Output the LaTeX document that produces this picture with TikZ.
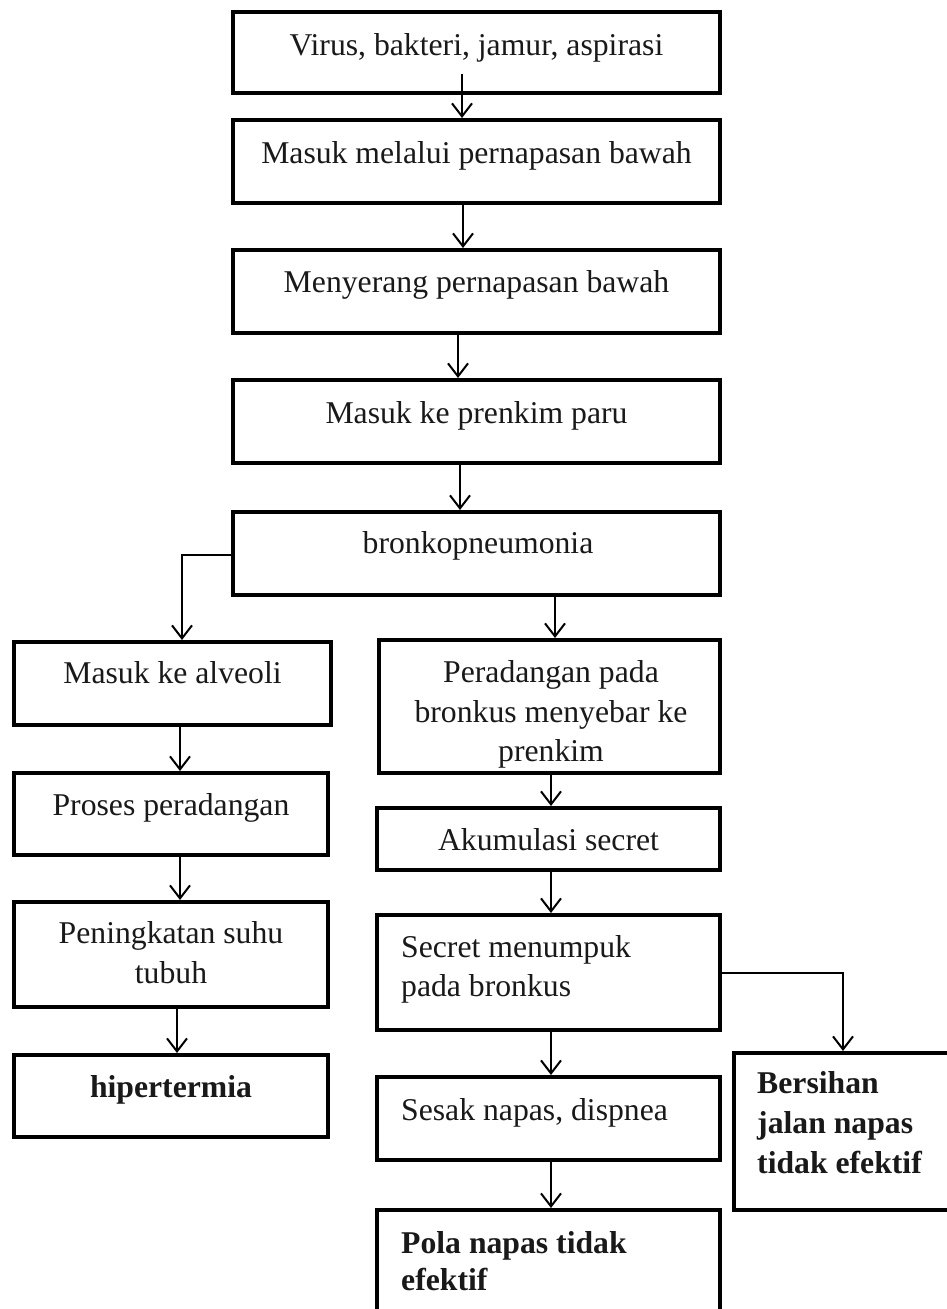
\documentclass[tikz,border=0pt]{standalone}
\usepackage{fontspec}
\setmainfont{Liberation Serif}
\usetikzlibrary{arrows.meta,calc}
\tikzset{
  box/.style={draw=black, line width=4pt, rectangle, inner sep=0pt, fill=none},
  lbl/.style={anchor=base, inner sep=0pt, font=\fontsize{31.7pt}{40pt}\selectfont, text=black!90},
  lblb/.style={lbl, font=\fontsize{31.7pt}{40pt}\selectfont\bfseries},
  lbll/.style={lbl, anchor=base west},
  lblbl/.style={lblb, anchor=base west},
  arr/.style={-{Straight Barb[length=13pt,width=20pt,line width=2pt]}, line width=2pt, draw=black}
}
\begin{document}
\begin{tikzpicture}[x=1pt,y=-1pt]
\path[use as bounding box] (0,0) rectangle (947,1309);
\fill[white] (0,0) rectangle (947,1309);
\clip (0,0) rectangle (947,1309);
% boxes
\node[box, minimum width=487pt, minimum height=81pt] (b1) at (476.5,52.5) {};
\node[box, minimum width=487pt, minimum height=83pt] (b2) at (476.5,161.5) {};
\node[box, minimum width=487pt, minimum height=83pt] (b3) at (476.5,291.5) {};
\node[box, minimum width=487pt, minimum height=83pt] (b4) at (476.5,421.5) {};
\node[box, minimum width=487pt, minimum height=83pt] (b5) at (476.5,553.5) {};
\node[box, minimum width=317pt, minimum height=83pt] (b6) at (172.5,683.5) {};
\node[box, minimum width=314pt, minimum height=82pt] (b7) at (171,814) {};
\node[box, minimum width=314pt, minimum height=105pt] (b8) at (171,954.5) {};
\node[box, minimum width=314pt, minimum height=82pt] (b9) at (171,1096) {};
\node[box, minimum width=341pt, minimum height=133pt] (b10) at (549.5,706.5) {};
\node[box, minimum width=343pt, minimum height=62pt] (b11) at (548.5,839) {};
\node[box, minimum width=343pt, minimum height=115pt] (b12) at (548.5,972.5) {};
\node[box, minimum width=343pt, minimum height=83pt] (b13) at (548.5,1118.5) {};
\node[box, minimum width=343pt, minimum height=130pt] (b14) at (548.5,1275) {};
\node[box, minimum width=246pt, minimum height=157pt] (b15) at (857,1131.5) {};
% texts
\node[lbl] (t1) at (476.5,55) {Virus, bakteri, jamur, aspirasi};
\node[lbl] (t2) at (476.5,163) {Masuk melalui pernapasan bawah};
\node[lbl] (t3) at (476.5,292) {Menyerang pernapasan bawah};
\node[lbl] (t4) at (476.5,423) {Masuk ke prenkim paru};
\node[lbl] (t5) at (478,553) {bronkopneumonia};
\node[lbl] (t6) at (172.5,683) {Masuk ke alveoli};
\node[lbl] (t7) at (171,815) {Proses peradangan};
\node[lbl] (t8a) at (171,943) {Peningkatan suhu};
\node[lbl] (t8b) at (171,983) {tubuh};
\node[lblb] (t9) at (171,1097) {hipertermia};
\node[lbl] (t10a) at (551,682) {Peradangan pada};
\node[lbl] (t10b) at (551,722) {bronkus menyebar ke};
\node[lbl] (t10c) at (551,761) {prenkim};
\node[lbl] (t11) at (548.5,850) {Akumulasi secret};
\node[lbll] (t12a) at (401,957) {Secret menumpuk};
\node[lbll] (t12b) at (401,996) {pada bronkus};
\node[lbll] (t13) at (401,1120) {Sesak napas, dispnea};
\node[lblbl] (t14a) at (401,1253) {Pola napas tidak};
\node[lblbl] (t14b) at (401,1290) {efektif};
\node[lblbl] (t15a) at (757,1093) {Bersihan};
\node[lblbl] (t15b) at (757,1133) {jalan napas};
\node[lblbl] (t15c) at (757,1173) {tidak efektif};
% connectors
\coordinate (s1) at ($(b1.south)+(-14.5,-21)$);
\draw[arr] (s1) -- (s1 |- b2.north);
\coordinate (s2) at ($(b2.south)+(-13.5,0)$);
\draw[arr] (s2) -- (s2 |- b3.north);
\coordinate (s3) at ($(b3.south)+(-18.5,0)$);
\draw[arr] (s3) -- (s3 |- b4.north);
\coordinate (s4) at ($(b4.south)+(-16.5,0)$);
\draw[arr] (s4) -- (s4 |- b5.north);
\coordinate (s5) at ($(b5.west)+(0,1.5)$);
\coordinate (k5) at (182,555);
\draw[arr] (s5) -- (k5) -- (k5 |- b6.north);
\coordinate (s5r) at ($(b5.south)+(78.5,0)$);
\draw[arr] (s5r) -- (s5r |- b10.north);
\coordinate (s6) at ($(b6.south)+(7.5,0)$);
\draw[arr] (s6) -- (s6 |- b7.north);
\coordinate (s7) at ($(b7.south)+(9,0)$);
\draw[arr] (s7) -- (s7 |- b8.north);
\coordinate (s8) at ($(b8.south)+(6,0)$);
\draw[arr] (s8) -- (s8 |- b9.north);
\coordinate (s10) at (551,0);
\draw[arr] (s10 |- b10.south) -- (s10 |- b11.north);
\draw[arr] (s10 |- b11.south) -- (s10 |- b12.north);
\draw[arr] (s10 |- b12.south) -- (s10 |- b13.north);
\draw[arr] (s10 |- b13.south) -- (s10 |- b14.north);
\coordinate (k12) at (843,973);
\draw[arr] (b12.east |- k12) -- (k12) -- (k12 |- b15.north);
\end{tikzpicture}
\end{document}
